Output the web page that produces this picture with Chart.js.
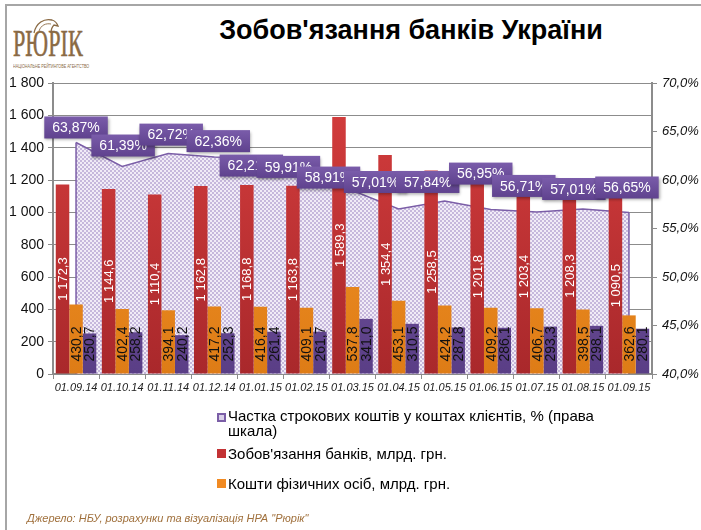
<!DOCTYPE html>
<html>
<head>
<meta charset="utf-8">
<script src="https://cdn.jsdelivr.net/npm/chart.js@4"></script>
<style>
  html, body { margin: 0; padding: 0; background: #fff; }
  body { width: 701px; height: 530px; position: relative; overflow: hidden; font-family: Arial, "Liberation Sans", sans-serif; }
  .frame-top { position: absolute; left: 5px; top: 4px; width: 696px; height: 2px; background: #a6a6a6; }
  .frame-left { position: absolute; left: 5px; top: 4px; width: 2px; height: 526px; background: #a6a6a6; }
  #wrap { position: absolute; left: 0; top: 0; width: 701px; height: 530px; }
  .title { position: absolute; left: 150px; width: 522px; top: 15px; text-align: center; font-weight: bold; font-size: 27px; color: #000; }
  .logo { position: absolute; left: 13px; top: 25px; font-family: "Liberation Serif", "DejaVu Serif", serif; font-size: 37px; line-height: 37px; color: #8a6a44; transform: scaleX(0.6); transform-origin: left top; white-space: nowrap; -webkit-text-stroke: 0.6px #8a6a44; }
  .logo-sub { position: absolute; left: 13px; top: 63px; font-size: 6px; line-height: 6px; color: #8a6a44; transform: scaleX(0.62); transform-origin: left top; white-space: nowrap; }
  .bird { position: absolute; left: 30px; top: 15px; }
  .source { position: absolute; left: 27px; top: 512px; font-size: 11px; font-style: italic; color: #a0703c; }
  #legend { position: absolute; left: 217px; top: 408px; width: 405px; font-size: 15px; color: #000; }
  #legend .item { display: flex; align-items: center; height: 30px; }
  #legend .sw { width: 9px; height: 9px; flex: none; margin-right: 2px; box-sizing: border-box; align-self: flex-start; margin-top: 5px; }
  #legend .item.single .sw { align-self: center; margin-top: 0; }
  #legend .txt { line-height: 15px; }
</style>
</head>
<body>
<div class="frame-top"></div>
<div class="frame-left"></div>
<svg class="bird" width="30" height="20" viewBox="0 0 30 20">
  <path d="M4 18 C6 8 14 3 22 5 C25 6 27 8 28 11 L24 10 C22 12 21 15 21 18" fill="none" stroke="#8a6a44" stroke-width="1.3"/>
  <path d="M9 16 C11 10 16 8 21 9" fill="none" stroke="#8a6a44" stroke-width="0.9"/>
</svg>
<div class="logo">РЮРІК</div>
<div class="logo-sub">НАЦІОНАЛЬНЕ РЕЙТИНГОВЕ АГЕНТСТВО</div>
<div class="title">Зобов'язання банків України</div>
<div id="wrap"><canvas id="chart" width="701" height="530"></canvas></div>
<div id="legend"></div>
<div class="source">Джерело: НБУ, розрахунки та візуалізація НРА "Рюрік"</div>
<script>
// дані
const dates = ['01.09.14', '01.10.14', '01.11.14', '01.12.14', '01.01.15', '01.02.15', '01.03.15',
               '01.04.15', '01.05.15', '01.06.15', '01.07.15', '01.08.15', '01.09.15'];
const liabilities = [1172.3, 1144.6, 1110.4, 1162.8, 1168.8, 1163.8, 1589.3, 1354.4, 1258.5, 1201.8, 1203.4, 1208.3, 1090.5];
const individuals = [430.2, 402.4, 394.1, 417.2, 416.4, 409.1, 537.8, 453.1, 424.2, 409.2, 406.7, 398.5, 362.6];
const legalEntities = [250.7, 258.2, 240.2, 252.3, 261.4, 261.7, 341.0, 310.5, 287.8, 286.1, 293.3, 298.1, 280.1];
const termShare = [63.87, 61.39, 62.72, 62.36, 62.21, 59.91, 58.91, 57.01, 57.84, 56.95, 56.71, 57.01, 56.65];

const shareLabel = 'Частка строкових коштів у коштах клієнтів, % (права шкала)';
const liabLabel = "Зобов'язання банків, млрд. грн.";
const indivLabel = 'Кошти фізичних осіб, млрд. грн.';
const legalLabel = 'Кошти юридичних осіб, млрд. грн.';

// ручні зсуви підписів відсотків (як в оригіналі)
const pctDx = [0, 1, 3, 4, -9, -18, -24, -23, -17, -10, -13, -9, -2];
const pctGap = [4, 10, 8, 5, -18, 3, 2, 16, 8, 25, 15, 9, 14];

function fmtNum(v) {
  const parts = v.toFixed(1).split('.');
  parts[0] = parts[0].replace(/\B(?=(\d{3})+(?!\d))/g, ' ');
  return parts.join(',');
}

function makePattern() {
  const c = document.createElement('canvas');
  c.width = 4; c.height = 4;
  const g = c.getContext('2d');
  g.fillStyle = '#f1ecf7';
  g.fillRect(0, 0, 4, 4);
  g.fillStyle = '#c6b8dc';
  g.fillRect(0, 0, 2, 2);
  g.fillRect(2, 2, 2, 2);
  return g.createPattern(c, 'repeat');
}

function grad(top, bottom) {
  return function(ctx) {
    const area = ctx.chart.chartArea;
    if (!area) return bottom;
    const g = ctx.chart.ctx.createLinearGradient(0, area.top, 0, area.bottom);
    g.addColorStop(0, top);
    g.addColorStop(1, bottom);
    return g;
  };
}

const labelPlugin = {
  id: 'valueLabels',
  afterDatasetsDraw(chart) {
    const ctx = chart.ctx;
    // підписи стовпців
    chart.data.datasets.forEach((ds, di) => {
      if (ds.type === 'line') return;
      const meta = chart.getDatasetMeta(di);
      meta.data.forEach((bar, i) => {
        ctx.save();
        ctx.fillStyle = ds.labelColor;
        ctx.textBaseline = 'middle';
        if (ds.labelPos === 'center') {
          ctx.font = '13px Arial, "Liberation Sans"';
          ctx.translate(bar.x, (bar.y + bar.base) / 2);
          ctx.textAlign = 'center';
        } else {
          ctx.font = '14px Arial, "Liberation Sans"';
          ctx.translate(bar.x, bar.base - 12);
          ctx.textAlign = 'left';
        }
        ctx.rotate(-Math.PI / 2);
        ctx.fillText(fmtNum(ds.data[i]), 0, 1);
        ctx.restore();
      });
    });
    // підписи частки
    const meta = chart.getDatasetMeta(0);
    meta.data.forEach((pt, i) => {
      const txt = termShare[i].toFixed(2).replace('.', ',') + '%';
      ctx.save();
      ctx.font = '14px Arial, "Liberation Sans"';
      const w = ctx.measureText(txt).width + 16;
      const h = 22;
      const cx = pt.x + pctDx[i];
      const bottom = pt.y - pctGap[i];
      ctx.shadowColor = 'rgba(0,0,0,0.35)';
      ctx.shadowBlur = 3;
      ctx.shadowOffsetX = 1;
      ctx.shadowOffsetY = 2;
      const g = ctx.createLinearGradient(0, bottom - h, 0, bottom);
      g.addColorStop(0, '#7a5caa');
      g.addColorStop(1, '#5f428e');
      ctx.fillStyle = g;
      ctx.fillRect(cx - w / 2, bottom - h, w, h);
      ctx.shadowColor = 'transparent';
      ctx.fillStyle = '#fff';
      ctx.textAlign = 'center';
      ctx.textBaseline = 'middle';
      ctx.fillText(txt, cx, bottom - h / 2 + 1);
      ctx.restore();
    });
  },
  afterDatasetDraw(chart, args) {
    if (args.index !== 0) return;
    // бокові краї області
    const pts = chart.getDatasetMeta(0).data;
    const ctx = chart.ctx;
    const bottom = chart.chartArea.bottom;
    ctx.save();
    ctx.strokeStyle = '#7b5ea7';
    ctx.lineWidth = 1.5;
    ctx.beginPath();
    ctx.moveTo(pts[0].x, pts[0].y);
    ctx.lineTo(pts[0].x, bottom);
    ctx.moveTo(pts[pts.length - 1].x, pts[pts.length - 1].y);
    ctx.lineTo(pts[pts.length - 1].x, bottom);
    ctx.stroke();
    ctx.restore();
  }
};

const axisColor = '#8c8c8c';

const chart = new Chart(document.getElementById('chart'), {
  type: 'bar',
  data: {
    labels: dates,
    datasets: [
      {
        type: 'line',
        label: shareLabel,
        data: termShare,
        yAxisID: 'y1',
        order: 5,
        fill: 'start',
        backgroundColor: makePattern(),
        borderColor: '#7b5ea7',
        borderWidth: 1.5,
        pointRadius: 0,
        tension: 0
      },
      {
        label: liabLabel,
        data: liabilities,
        yAxisID: 'y',
        order: 1,
        backgroundColor: grad('#d63e3e', '#a9282b'),
        labelColor: '#fff',
        labelPos: 'center',
        categoryPercentage: 0.88,
        barPercentage: 1.0
      },
      {
        label: indivLabel,
        data: individuals,
        yAxisID: 'y',
        order: 1,
        backgroundColor: grad('#f99a2c', '#de7c16'),
        labelColor: '#111',
        labelPos: 'base',
        categoryPercentage: 0.88,
        barPercentage: 1.0
      },
      {
        label: legalLabel,
        data: legalEntities,
        yAxisID: 'y',
        order: 1,
        backgroundColor: grad('#8263ad', '#5a3e86'),
        labelColor: '#111',
        labelPos: 'base',
        inLegend: false,
        categoryPercentage: 0.88,
        barPercentage: 1.0
      }
    ]
  },
  options: {
    responsive: false,
    animation: false,
    devicePixelRatio: 1,
    layout: { padding: { left: 8, right: 0, top: 83, bottom: 126 } },
    plugins: {
      legend: { display: false },
      title: { display: false },
      tooltip: { enabled: false }
    },
    scales: {
      x: {
        offset: true,
        grid: { display: true, drawOnChartArea: false, offset: true, tickLength: 5, color: axisColor },
        border: { color: axisColor, width: 2 },
        ticks: { font: { family: 'Arial', size: 11, style: 'italic' }, color: '#222', maxRotation: 0, autoSkip: false, padding: 2 },
        afterFit(s) { s.height = 30; }
      },
      y: {
        position: 'left',
        min: 0, max: 1800,
        ticks: {
          stepSize: 200,
          font: { family: 'Arial', size: 14 },
          color: '#111',
          padding: 4,
          callback: v => String(v).replace(/\B(?=(\d{3})+(?!\d))/g, ' ')
        },
        grid: { color: axisColor, borderDash: [5, 4], tickLength: 5, tickBorderDash: [], tickColor: axisColor },
        border: { color: axisColor, width: 2, dash: [] },
        afterFit(s) { s.width = 45; }
      },
      y1: {
        position: 'right',
        min: 40, max: 70,
        ticks: {
          stepSize: 5,
          font: { family: 'Arial', size: 13, style: 'italic' },
          color: '#111',
          padding: 5,
          callback: v => v.toFixed(1).replace('.', ',') + '%'
        },
        grid: { drawOnChartArea: false, tickLength: 5, color: axisColor },
        border: { color: axisColor, width: 2 },
        afterFit(s) { s.width = 49; }
      }
    }
  },
  plugins: [labelPlugin]
});

// легенда
const legendEl = document.getElementById('legend');
chart.data.datasets.forEach((ds, i) => {
  if (ds.inLegend === false) return;
  const item = document.createElement('div');
  item.className = ds.type === 'line' ? 'item' : 'item single';
  const sw = document.createElement('span');
  sw.className = 'sw';
  if (ds.type === 'line') {
    sw.style.border = '2px solid #7b5ea7';
    sw.style.background = '#d9d0e8';
  } else {
    sw.style.background = i === 1 ? '#c33234' : '#f18a22';
  }
  const txt = document.createElement('span');
  txt.className = 'txt';
  txt.textContent = ds.label;
  item.appendChild(sw);
  item.appendChild(txt);
  legendEl.appendChild(item);
});
</script>
</body>
</html>
